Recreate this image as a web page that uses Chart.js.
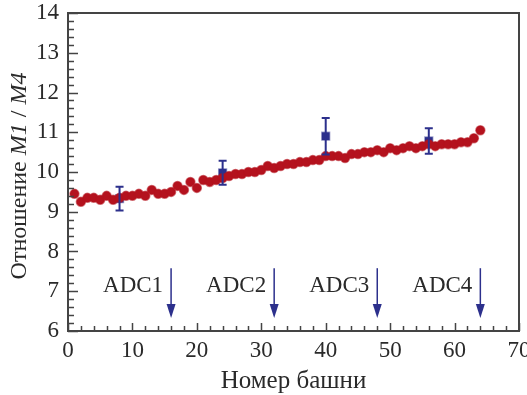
<!DOCTYPE html>
<html>
<head>
<meta charset="utf-8">
<script src="https://cdn.jsdelivr.net/npm/chart.js@4.4.1/dist/chart.umd.min.js"></script>
<style>
  html, body { margin: 0; padding: 0; background: #fff; }
</style>
</head>
<body>
<canvas id="myChart" width="527" height="395"></canvas>
<script>
// Номера башен и отношение M1/M4 (красные точки)
const towers = [];
for (let i = 1; i <= 64; i++) towers.push(i);
const ratio = [
  9.45, 9.25, 9.35, 9.35, 9.30, 9.40, 9.30, 9.35, 9.40, 9.40,
  9.45, 9.40, 9.55, 9.45, 9.45, 9.50, 9.65, 9.55, 9.75, 9.60,
  9.80, 9.75, 9.80, 9.85, 9.90, 9.95, 9.95, 10.00, 10.00, 10.05,
  10.15, 10.10, 10.15, 10.20, 10.20, 10.25, 10.25, 10.30, 10.30, 10.40,
  10.40, 10.40, 10.35, 10.45, 10.45, 10.50, 10.50, 10.55, 10.50, 10.60,
  10.55, 10.60, 10.65, 10.60, 10.65, 10.70, 10.65, 10.70, 10.70, 10.70,
  10.75, 10.75, 10.85, 11.05
];

// Синие точки с ошибками
const adcTowers = [8, 24, 40, 56];
const adcRatio = [9.33, 9.98, 10.90, 10.78];
const adcErr = [0.30, 0.30, 0.46, 0.32];

// Стрелки ADC
const arrowTowers = [16, 32, 48, 64];
const arrowLabels = ["ADC1", "ADC2", "ADC3", "ADC4"];
const arrowTop = 7.58;
const arrowTip = 6.33;
const arrowLabelY = 6.97;

const xTitle = "Номер башни";
const yTitleParts = [
  { text: "Отношение ", italic: false },
  { text: "M1", italic: true },
  { text: " / ", italic: false },
  { text: "M4", italic: true }
];

const FONT = "'Liberation Serif', serif";
const RED = "rgb(180, 18, 30)";
const BLUE = "rgb(44, 48, 140)";
const AXIS = "#444";
const TEXT = "#2a2a2a";

const redData = towers.map((t, i) => ({ x: t, y: ratio[i] }));
const blueData = adcTowers.map((t, i) => ({ x: t, y: adcRatio[i] }));

// Рамка, засечки, стрелки, ошибки и подписи осей
const decorPlugin = {
  id: "decor",
  afterDatasetsDraw(chart) {
    const c = chart.ctx;
    const xs = chart.scales.x;
    const ys = chart.scales.y;
    const a = chart.chartArea;
    c.save();

    // ошибки синих точек
    c.strokeStyle = BLUE;
    c.lineWidth = 2;
    adcTowers.forEach((t, i) => {
      const px = xs.getPixelForValue(t);
      const top = ys.getPixelForValue(adcRatio[i] + adcErr[i]);
      const bot = ys.getPixelForValue(adcRatio[i] - adcErr[i]);
      c.beginPath();
      c.moveTo(px, top); c.lineTo(px, bot);
      c.moveTo(px - 4, top); c.lineTo(px + 4, top);
      c.moveTo(px - 4, bot); c.lineTo(px + 4, bot);
      c.stroke();
    });

    // стрелки
    c.lineWidth = 1.5;
    arrowTowers.forEach((t, i) => {
      const px = xs.getPixelForValue(t);
      const y0 = ys.getPixelForValue(arrowTop);
      const y1 = ys.getPixelForValue(arrowTip);
      c.fillStyle = BLUE;
      c.beginPath();
      c.moveTo(px, y0); c.lineTo(px, y1 - 10);
      c.stroke();
      c.beginPath();
      c.moveTo(px, y1);
      c.lineTo(px - 4.5, y1 - 14);
      c.lineTo(px + 4.5, y1 - 14);
      c.closePath();
      c.fill();
      c.fillStyle = TEXT;
      c.font = "23px " + FONT;
      c.textAlign = "right";
      c.textBaseline = "alphabetic";
      c.fillText(arrowLabels[i], px - 8, ys.getPixelForValue(arrowLabelY));
    });

    // засечки внутрь
    c.strokeStyle = AXIS;
    c.lineWidth = 1.5;
    c.beginPath();
    for (let v = 6; v <= 14.001; v += 0.2) {
      const py = Math.round(ys.getPixelForValue(v)) + 0.5;
      const major = Math.abs(v - Math.round(v)) < 0.01;
      c.moveTo(a.left, py); c.lineTo(a.left + (major ? 10 : 6), py);
    }
    for (let v = 0; v <= 70; v += 2) {
      const px = Math.round(xs.getPixelForValue(v)) + 0.5;
      const major = v % 10 === 0;
      c.moveTo(px, a.bottom); c.lineTo(px, a.bottom - (major ? 8 : 5));
    }
    c.stroke();

    // рамка
    c.lineWidth = 2;
    c.strokeRect(a.left, a.top, a.right - a.left, a.bottom - a.top);

    // подпись оси X
    c.fillStyle = TEXT;
    c.font = "25px " + FONT;
    c.textAlign = "center";
    c.textBaseline = "alphabetic";
    c.fillText(xTitle, (a.left + a.right) / 2, 388);

    // подпись оси Y (курсив для M1, M4)
    c.translate(26, (a.top + a.bottom) / 2 + 4);
    c.rotate(-Math.PI / 2);
    const fonts = yTitleParts.map(p => (p.italic ? "italic " : "") + "24px " + FONT);
    let total = 0;
    yTitleParts.forEach((p, i) => { c.font = fonts[i]; total += c.measureText(p.text).width; });
    let x = -total / 2;
    c.textAlign = "left";
    yTitleParts.forEach((p, i) => {
      c.font = fonts[i];
      c.fillText(p.text, x, 0);
      x += c.measureText(p.text).width;
    });
    c.restore();
  }
};

const ctx = document.getElementById("myChart");
const myChart = new Chart(ctx, {
  type: "scatter",
  data: {
    datasets: [
      {
        label: "M1/M4",
        data: redData,
        backgroundColor: RED,
        borderColor: "rgba(180, 18, 30, 0.55)",
        borderWidth: 1.5,
        pointRadius: 4.5,
        pointStyle: "circle",
      },
      {
        label: "ADC",
        data: blueData,
        backgroundColor: BLUE,
        borderColor: "rgba(44, 48, 140, 0.45)",
        borderWidth: 1.5,
        pointRadius: 5.5,
        pointStyle: "rect",
      },
    ],
  },
  options: {
    responsive: false,
    animation: false,
    layout: { padding: { top: 13, right: 8, left: 0, bottom: 0 } },
    plugins: {
      legend: { display: false },
      tooltip: { enabled: false },
    },
    scales: {
      x: {
        type: "linear",
        min: 0,
        max: 70,
        grid: { display: false, drawTicks: false },
        border: { display: false },
        ticks: {
          stepSize: 10,
          padding: 6,
          color: TEXT,
          font: { family: FONT, size: 23 },
        },
        afterFit(scale) {
          scale.height = 64;
          scale.paddingLeft = 0;
          scale.paddingRight = 0;
        },
      },
      y: {
        type: "linear",
        min: 6,
        max: 14,
        grid: { display: false, drawTicks: false },
        border: { display: false },
        ticks: {
          stepSize: 1,
          padding: 9,
          color: TEXT,
          font: { family: FONT, size: 23 },
        },
        afterFit(scale) {
          scale.width = 68;
          scale.paddingTop = 0;
          scale.paddingBottom = 0;
        },
      },
    },
  },
  plugins: [decorPlugin],
});
</script>
</body>
</html>
